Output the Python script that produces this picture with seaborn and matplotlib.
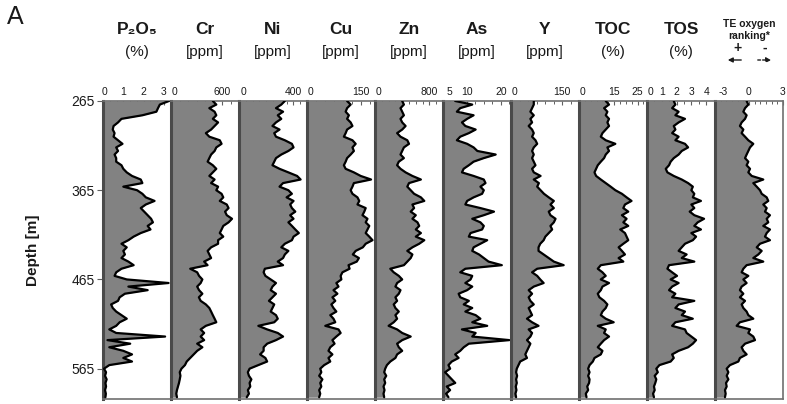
import numpy as np
import pandas as pd
import matplotlib
matplotlib.use("Agg")
import matplotlib.pyplot as plt
import matplotlib.transforms as mtransforms
import seaborn as sns
from matplotlib.ticker import FixedLocator, MultipleLocator, NullLocator

sns.set_theme(style="white")
plt.rcParams["font.family"] = ["Liberation Sans", "DejaVu Sans"]
plt.rcParams["axes.unicode_minus"] = False

depth = [265, 269, 273, 277, 281, 285, 289, 293, 297, 301, 305, 309, 313, 317, 321, 325,
         329, 333, 337, 341, 345, 349, 353, 357, 361, 365, 369, 373, 377, 381, 385, 389,
         393, 397, 401, 405, 409, 413, 417, 421, 425, 429, 433, 437, 441, 445, 449, 453,
         457, 461, 465, 469, 473, 477, 481, 485, 489, 493, 497, 501, 505, 509, 513, 517,
         521, 525, 529, 533, 537, 541, 545, 549, 553, 557, 561, 565, 569, 573, 577, 581,
         585, 589, 593, 597]

p2o5 = [3.25, 2.80, 2.71, 2.63, 1.94, 0.91, 0.74, 0.52, 0.48, 0.57, 0.52, 0.74, 0.96, 0.65,
        0.74, 0.57, 0.65, 0.65, 0.91, 1.00, 1.17, 1.43, 1.86, 1.94, 1.00, 1.68, 1.94, 2.11,
        2.54, 2.11, 1.86, 2.03, 2.20, 2.37, 2.46, 2.20, 2.34, 1.86, 1.51, 1.25,
        0.91, 1.17, 1.00, 1.08, 0.91, 1.25, 1.51, 0.91, 0.65, 0.57, 1.17, 3.23, 1.25, 2.20,
        1.08, 0.82, 0.74, 0.40, 0.48, 0.65, 0.91, 1.17, 0.82, 0.65, 0.31, 0.65, 3.06, 0.22,
        1.34, 0.31, 1.00, 1.43, 1.00, 1.43, 0.31, 0.05, 0.15, 0.10, 0.18, 0.12, 0.15, 0.10,
        0.14, 0.12]
cr = [492, 533, 451, 513, 533, 492, 554, 513, 472, 410, 451, 574, 595, 533, 513, 472, 451,
      431, 492, 533, 492, 451, 513, 472, 554, 533, 595, 615, 574, 656, 677, 636, 656, 718,
      677, 615, 595, 574, 615, 554,
      554, 472, 431, 451, 472, 390, 430, 226, 308, 330, 369, 349, 308, 330, 369, 328, 349,
      410, 451, 472, 492, 513, 533, 410, 349, 390, 349, 390, 308, 369, 308, 267, 226, 185,
      164, 123, 103, 111, 103, 94, 82, 70, 62, 70]
ni = [337, 311, 272, 324, 285, 311, 272, 246, 298, 259, 272, 337, 389, 401, 363, 311, 272,
      259, 246, 298, 363, 427, 453, 324, 298, 363, 389, 350, 401, 376, 389, 414, 376, 401,
      363, 389, 414, 440, 401, 389,
      337, 311, 363, 337, 324, 285, 324, 190, 181, 194, 233, 272, 246, 233, 272, 246, 220,
      259, 246, 233, 272, 285, 259, 142, 207, 285, 324, 272, 207, 181, 181, 155, 194, 207,
      142, 78, 65, 73, 91, 78, 83, 65, 73, 57]
cu = [112, 122, 112, 108, 117, 112, 122, 127, 112, 108, 103, 127, 136, 127, 131, 122, 112,
      108, 103, 108, 131, 150, 179, 131, 127, 122, 127, 141, 146, 141, 164, 160, 155, 169,
      164, 174, 169, 164, 174, 183,
      164, 156, 136, 128, 145, 139, 116, 119, 99, 94, 96, 82, 88, 74, 85, 71, 79, 68, 74,
      82, 65, 74, 79, 51, 88, 94, 82, 71, 77, 65, 60, 71, 60, 65, 48, 37, 40, 34, 43, 37,
      40, 34, 37, 34]
zn = [400, 425, 375, 400, 425, 375, 400, 450, 400, 325, 375, 475, 500, 425, 400, 375, 425,
      350, 325, 375, 450, 550, 675, 500, 475, 525, 575, 675, 725, 550, 575, 525, 600, 550,
      625, 650, 600, 675, 600, 725,
      650, 550, 475, 550, 525, 475, 425, 225, 275, 350, 400, 325, 300, 375, 350, 300, 325,
      275, 300, 350, 300, 325, 275, 200, 325, 400, 525, 400, 325, 350, 400, 325, 300, 225,
      175, 150, 135, 165, 135, 150, 125, 140, 125, 135]
as_ = [6.58, 11.6, 8.07, 7.08, 12.0, 10.1, 8.57, 9.57, 12.6, 10.6, 8.07, 7.08, 10.1, 12.0,
       13.1, 18.5, 15.0, 12.0, 10.6, 9.07, 8.57, 12.0, 15.0, 15.5, 14.0, 15.0, 14.5, 12.0,
       10.1, 9.57, 14.0, 18.0, 15.0, 11.6, 14.0, 15.0, 14.5, 11.1, 10.6, 16.0,
       14.0, 12.0, 11.6, 13.6, 15.0, 16.4, 20.3, 9.57, 8.07, 11.6, 11.1, 9.57, 11.6, 10.1,
       7.6, 8.07, 10.6, 9.1, 11.6, 9.57, 12.6, 14.0, 11.6, 16.0, 8.57, 12.6, 11.6, 22.5,
       10.6, 9.1, 8.07, 6.58, 7.58, 5.58, 4.6, 5.1, 3.6, 4.6, 5.6, 6.6, 4.1, 5.1, 3.9, 4.6]
y_el = [67, 67, 62, 57, 67, 57, 62, 52, 62, 67, 62, 72, 77, 67, 62, 67, 62, 67, 72, 62, 67,
        87, 67, 82, 77, 87, 97, 111, 126, 116, 126, 111, 116, 131, 126, 116, 121, 111, 101, 96,
        86, 81, 81, 96, 111, 126, 155, 77, 62, 77, 86, 96, 67, 52, 62, 52, 57, 67, 52, 57,
        62, 47, 62, 81, 52, 62, 57, 47, 57, 52, 47, 42, 47, 27, 22, 17, 15, 18, 15, 17, 14,
        16, 13, 15]
toc = [11.4, 12.8, 10.7, 12.1, 11.4, 12.8, 12.1, 12.8, 11.4, 10.0, 9.3, 11.4, 15.5, 12.1,
       12.8, 11.4, 10.7, 9.3, 8.0, 7.3, 6.6, 7.3, 9.3, 11.4, 13.5, 15.5, 18.3, 20.3, 22.4,
       19.6, 18.9, 21.0, 18.3, 20.3, 18.9, 21.0, 17.6, 19.6, 20.3, 21.0,
       18.9, 16.9, 18.3, 19.6, 16.9, 18.9, 9.3, 8.0, 10.0, 11.4, 9.3, 12.8, 10.0, 9.3, 8.0,
       8.7, 10.7, 12.1, 11.4, 10.0, 9.3, 11.4, 14.8, 8.0, 11.4, 10.7, 12.8, 10.7, 9.3, 8.0,
       10.0, 9.3, 6.6, 5.9, 4.5, 3.9, 4.5, 3.9, 4.5, 4.3, 3.5, 3.9, 2.9, 3.2]
tos = [1.81, 1.92, 1.70, 2.14, 1.92, 2.57, 2.14, 1.81, 1.92, 1.70, 2.14, 1.92, 2.57, 2.78,
       2.35, 2.14, 1.81, 1.60, 1.49, 1.27, 1.38, 1.81, 2.35, 2.78, 3.10, 3.00, 3.20, 3.10,
       3.65, 3.00, 3.20, 2.89, 3.20, 3.86, 3.43, 3.20, 3.65, 3.00, 3.32, 3.10,
       2.57, 2.35, 2.14, 2.68, 2.35, 3.20, 1.49, 1.38, 1.70, 2.03, 1.60, 2.14, 1.70, 1.49,
       1.92, 1.70, 3.20, 2.14, 1.92, 2.57, 2.35, 3.10, 1.92, 1.70, 2.57, 2.68, 3.00, 3.32,
       3.10, 2.78, 2.14, 1.70, 1.81, 1.60, 0.84, 0.63, 0.73, 0.52, 0.63, 0.56, 0.47, 0.52,
       0.41, 0.47]
te_rank = [-0.21, -0.06, -0.35, -0.50, -0.21, -0.35, -0.65, -0.80, -0.50, -0.65, -0.35,
           -0.06, 0.38, 0.09, -0.06, -0.21, -0.35, -0.06, -0.21, 0.09, -0.06, 0.24, 1.26,
           0.38, 0.68, 0.97, 1.12, 1.56, 1.70, 1.26, 1.56, 1.41, 1.85, 1.56, 1.70, 1.26,
           1.85, 1.56, 1.41, 1.85,
           0.97, 0.68, 1.12, 0.82, 0.38, 1.26, -0.21, -0.50, -0.65, -0.06, -0.50, -0.21,
           -0.65, -0.80, -0.50, -0.80, -0.35, -0.65, -0.50, -0.21, -0.06, 0.38, -0.80,
           -1.09, 0.09, -0.06, 0.38, 0.53, -0.35, -0.65, -0.50, -0.21, -0.80, -0.94, -1.68,
           -1.97, -1.82, -1.97, -1.82, -2.03, -1.97, -2.12, -2.06, -2.12]

names = ["P₂O₅", "Cr", "Ni", "Cu", "Zn", "As", "Y", "TOC", "TOS", ""]
units = ["(%)", "[ppm]", "[ppm]", "[ppm]", "[ppm]", "[ppm]", "[ppm]", "(%)", "(%)", ""]
series = [p2o5, cr, ni, cu, zn, as_, y_el, toc, tos, te_rank]
xlims = [(0, 3.35), (0, 800), (0, 500), (0, 190), (0, 1000), (3, 23), (0, 200),
         (0, 29), (0, 4.6), (-3, 3)]
major_ticks = [[0, 1, 2, 3], [0, 600], [0, 400], [0, 150], [0, 800], [5, 10, 20],
               [0, 150], [0, 15, 25], [0, 1, 2, 3, 4], [-3, 0, 3]]
minor_steps = [1 / 3, 100, 50, 25, 100, 2.5, 25, 2.5, 0.5, 0.5]
first_label_shift = [1, 4, 4, 4, 4, 0, 4, 4, 4, 8]
depth_ticks = [265, 365, 465, 565]

W, H = 787, 404
fig = plt.figure(figsize=(W / 100, H / 100), dpi=100)
fig.patch.set_facecolor("white")

left0, pw, top_px, bot_px = 103, 68, 101, 399
txt = "#1a1a1a"

for i, vals in enumerate(series):
    ax = fig.add_axes([(left0 + i * pw) / W, 1 - bot_px / H, pw / W, (bot_px - top_px) / H])
    ax.set_facecolor("white")
    df = pd.DataFrame({"depth": depth, "value": vals})
    lo = xlims[i][0]
    ax.fill_betweenx(df["depth"], lo, df["value"], color="#828282", lw=0, zorder=1)
    sns.lineplot(data=df, x="value", y="depth", orient="y", sort=False, estimator=None,
                 color="black", lw=1.6, ax=ax, zorder=3)
    ax.set_xlim(*xlims[i])
    ax.set_ylim(599, 265)
    ax.set_xlabel("")
    ax.set_ylabel("")
    for s in ["top", "right", "bottom"]:
        ax.spines[s].set_color("#707070")
        ax.spines[s].set_linewidth(1.2)
    ax.spines["left"].set_color("#4a4a4a")
    ax.spines["left"].set_linewidth(2.2)
    ax.xaxis.tick_top()
    ax.xaxis.set_major_locator(FixedLocator(major_ticks[i]))
    ax.xaxis.set_minor_locator(MultipleLocator(minor_steps[i]))
    ax.tick_params(axis="x", which="major", direction="in", length=3, width=0.8,
                   color="#606060", labelsize=7.5, pad=3, labelcolor=txt,
                   top=True, bottom=False)
    ax.tick_params(axis="x", which="minor", direction="in", length=2, width=0.7,
                   color="#606060", top=True, bottom=False)
    ticks = ax.xaxis.get_major_ticks()
    if first_label_shift[i]:
        off = mtransforms.ScaledTranslation(first_label_shift[i] / 100, 0, fig.dpi_scale_trans)
        ticks[0].label2.set_transform(ticks[0].label2.get_transform() + off)
    if i == 0:
        ax.yaxis.set_major_locator(FixedLocator(depth_ticks))
        ax.yaxis.set_minor_locator(NullLocator())
        ax.tick_params(axis="y", which="major", direction="out", length=4, width=0.8,
                       color="#606060", labelsize=10, labelcolor=txt, left=True, pad=2)
    else:
        ax.set_yticks([])
    cx = (left0 + i * pw + pw / 2) / W
    if names[i]:
        fig.text(cx, 1 - 30 / H, names[i], ha="center", va="center", fontsize=12.5,
                 fontweight="bold", color=txt)
        fig.text(cx, 1 - 52 / H, units[i], ha="center", va="center", fontsize=11,
                 color=txt)

# TE oxygen ranking header
cx_te = (left0 + 9 * pw + pw / 2) / W
fig.text(cx_te, 1 - 24 / H, "TE oxygen", ha="center", va="center", fontsize=7.5,
         fontweight="bold", color=txt)
fig.text(cx_te, 1 - 36 / H, "ranking*", ha="center", va="center", fontsize=7.5,
         fontweight="bold", color=txt)
fig.text(737 / W, 1 - 48 / H, "+", ha="center", va="center", fontsize=10,
         fontweight="bold", color=txt)
fig.text(765 / W, 1 - 48 / H, "-", ha="center", va="center", fontsize=10,
         fontweight="bold", color=txt)
fig.add_artist(matplotlib.patches.FancyArrowPatch((744 / W, 1 - 60 / H), (725 / W, 1 - 60 / H),
               transform=fig.transFigure, arrowstyle="-|>", mutation_scale=7, lw=1, color=txt))
fig.add_artist(matplotlib.patches.FancyArrowPatch((755 / W, 1 - 60 / H), (774 / W, 1 - 60 / H),
               transform=fig.transFigure, arrowstyle="-|>", mutation_scale=7, lw=1,
               color=txt, linestyle=(0, (2, 1.5))))

fig.text(33 / W, 1 - 250 / H, "Depth [m]", rotation=90, ha="center", va="center",
         fontsize=11, fontweight="bold", color=txt)
fig.text(7 / W, 1 - 17 / H, "A", ha="left", va="center", fontsize=18, color=txt)

fig.savefig("out.png", dpi=100, facecolor="white")
